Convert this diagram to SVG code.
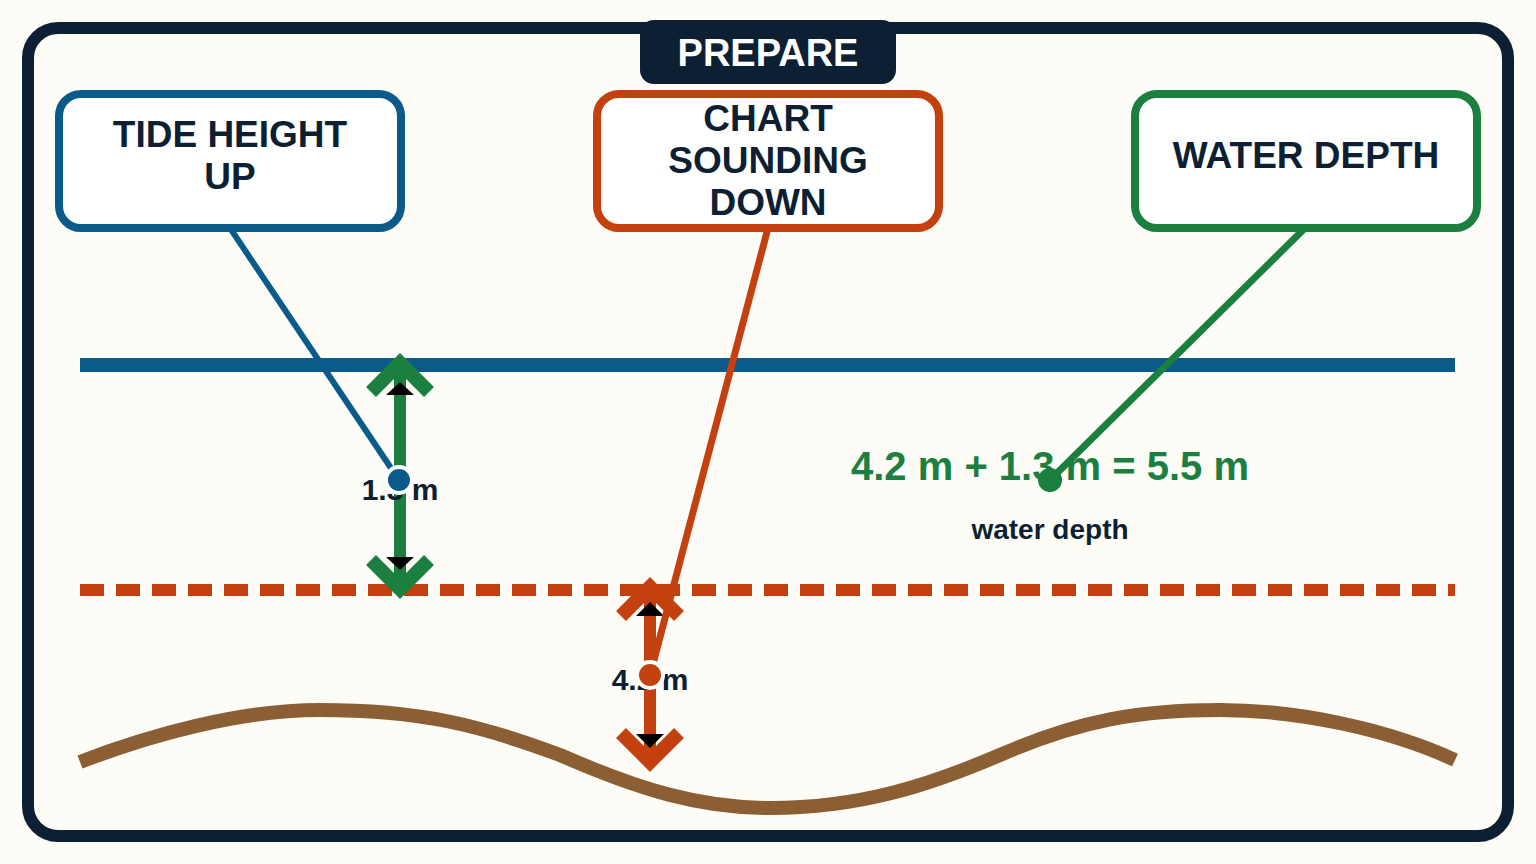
<svg xmlns="http://www.w3.org/2000/svg" width="1536" height="864" viewBox="0 0 1536 864">
<style>
.box{fill:#fff;stroke-width:8}
.t{font-family:"Liberation Sans",Arial,sans-serif;font-weight:bold;fill:#0d1f33;text-anchor:middle}
.dot{stroke:#fff;stroke-width:4}
</style>
<rect x="0" y="0" width="1536" height="864" fill="#fdfcf7"/>
<rect x="28" y="28" width="1480" height="808" rx="30" fill="#fdfcf7" stroke="#0d1f33" stroke-width="12"/>
<g id="prepare"><rect x="640" y="20" width="256" height="64" rx="14" fill="#0d1f33"/><text class="t" x="768" y="66" font-size="38" style="fill:#fff">PREPARE</text></g>
<g id="lines">
<line x1="80" y1="365" x2="1455" y2="365" stroke="#0a5a8a" stroke-width="14"/>
<line x1="80" y1="590" x2="1455" y2="590" stroke="#c4410f" stroke-width="12" stroke-dasharray="24 12"/>
<path d="M80,762 C150,735 240,710 320,710 C420,710 480,725 560,755 C640,790 700,808 770,808 C860,808 930,785 1000,755 C1080,720 1140,710 1220,710 C1300,710 1390,730 1455,760" fill="none" stroke="#8b5e34" stroke-width="14"/>
</g>
<g id="arrows">
<line x1="400" y1="370" x2="400" y2="585" stroke="#1a7f3f" stroke-width="12"/>
<polygon points="400,382 386,395 414,395" fill="#000"/>
<polyline points="371,392 400,363 429,392" fill="none" stroke="#1a7f3f" stroke-width="14"/>
<polygon points="400,570 386,557 414,557" fill="#000"/>
<polyline points="371,560 400,589 429,560" fill="none" stroke="#1a7f3f" stroke-width="14"/>
<line x1="650" y1="595" x2="650" y2="758" stroke="#c4410f" stroke-width="12"/>
<polygon points="650,602 636,616 664,616" fill="#000"/>
<polyline points="621,616 650,587 679,616" fill="none" stroke="#c4410f" stroke-width="14"/>
<polygon points="650,748 636,734 664,734" fill="#000"/>
<polyline points="621,733 650,762 679,733" fill="none" stroke="#c4410f" stroke-width="14"/>
<text class="t" x="400" y="500" font-size="30">1.3 m</text>
<text class="t" x="650" y="690" font-size="30">4.2 m</text>
<text class="t" x="1050" y="480" font-size="40" style="fill:#1a7f3f">4.2 m + 1.3 m = 5.5 m</text>
<text class="t" x="1050" y="539" font-size="28">water depth</text>
</g>
<g id="connectors">
<line x1="230" y1="228" x2="399" y2="480" stroke="#0a5a8a" stroke-width="6"/>
<line x1="768" y1="228" x2="650" y2="675" stroke="#c4410f" stroke-width="7"/>
<line x1="1305" y1="228" x2="1050" y2="480" stroke="#1a7f3f" stroke-width="7"/>
<circle class="dot" cx="399" cy="480" r="13" fill="#0a5a8a"/>
<circle class="dot" cx="650" cy="675" r="13" fill="#c4410f"/>
<circle cx="1050" cy="480" r="12" fill="#1a7f3f"/>
</g>
<g id="tide"><rect class="box" x="59" y="94" width="342" height="134" rx="22" stroke="#0a5a8a"/><text class="t" x="230" y="147" font-size="37">TIDE HEIGHT</text><text class="t" x="230" y="189" font-size="37">UP</text></g>
<g id="chart"><rect class="box" x="597" y="94" width="342" height="134" rx="22" stroke="#c4410f"/><text class="t" x="768" y="131" font-size="37">CHART</text><text class="t" x="768" y="173" font-size="37">SOUNDING</text><text class="t" x="768" y="215" font-size="37">DOWN</text></g>
<g id="water"><rect class="box" x="1135" y="94" width="342" height="134" rx="22" stroke="#1a7f3f"/><text class="t" x="1306" y="168" font-size="37">WATER DEPTH</text></g>
</svg>
